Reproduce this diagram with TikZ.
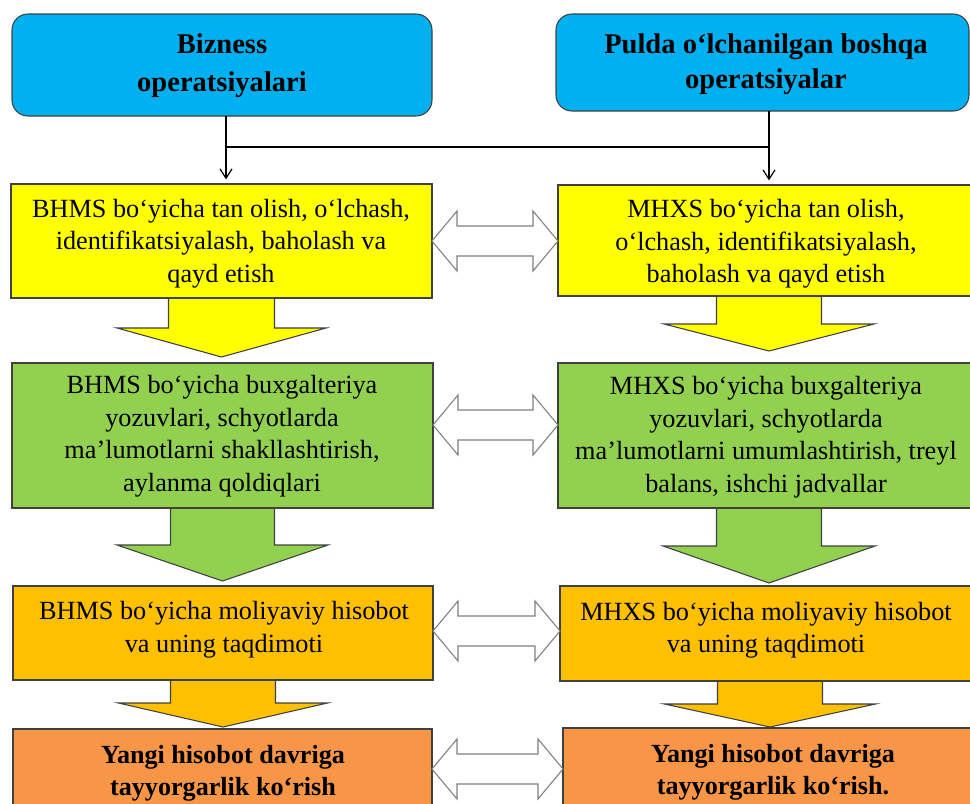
\documentclass[tikz,border=0pt]{standalone}
\usepackage{fontspec}
\setmainfont{Liberation Serif}
\usetikzlibrary{arrows.meta,calc,fit}
\pgfdeclarelayer{background}
\pgfsetlayers{background,main}
\definecolor{cblue}{HTML}{00B0F0}
\definecolor{cyel}{HTML}{FFFF00}
\definecolor{cgreen}{HTML}{92D050}
\definecolor{cgold}{HTML}{FFC000}
\definecolor{corange}{HTML}{F79646}
\definecolor{cbord}{HTML}{404040}
\definecolor{carrow}{HTML}{7F7F7F}
\tikzset{
 box/.style={draw=cbord, line width=0.8pt, inner sep=0pt, outer sep=0pt, rectangle},
 titlebox/.style={box, rounded corners=12pt},
 body/.style={font=\fontsize{19.7pt}{24.4pt}\selectfont, align=center, inner sep=0pt},
 titleL/.style={font=\bfseries\fontsize{21.4pt}{28.5pt}\selectfont, align=center, inner sep=0pt},
 titleR/.style={font=\bfseries\fontsize{21.4pt}{26.25pt}\selectfont, align=center, inner sep=0pt},
 btext/.style={font=\bfseries\fontsize{19.6pt}{24pt}\selectfont, align=center, inner sep=0pt},
 link/.style={draw=black, line width=0.9pt},
 dbl/.style={draw=carrow, fill=white, line width=0.8pt, line join=miter},
 blk/.style={draw=cbord, line width=0.8pt, fill=#1},
}
% block arrow going down from node #1 to node #2
\newcommand\blockdown[7]{%
 \coordinate (tip) at ($(#2.north -| #1.south)+(0,-#7)$);
 \begin{pgfonlayer}{background}
 \path[blk=#3] ($(#1.south)+(-#4,-4)$) -- ($(tip)+(-#4,-#6)$) -- ($(tip)+(-#5,-#6)$) -- (tip)
   -- ($(tip)+(#5,-#6)$) -- ($(tip)+(#4,-#6)$) -- ($(#1.south)+(#4,-4)$);
 \end{pgfonlayer}}
% double arrow between node #1 (left) and node #2 (right) at height #3
\newcommand\dblarrow[3]{%
 \coordinate (rowy) at (0,#3);
 \coordinate (dl) at (#1.east |- rowy);
 \coordinate (dr) at (#2.west |- rowy);
 \draw[dbl] (dl) -- ($(dl)+(25,-30)$) -- ($(dl)+(25,-15)$) -- ($(dr)+(-25,-15)$) -- ($(dr)+(-25,-30)$)
   -- (dr) -- ($(dr)+(-25,30)$) -- ($(dr)+(-25,15)$) -- ($(dl)+(25,15)$) -- ($(dl)+(25,30)$) -- cycle;}
\begin{document}
\begin{tikzpicture}[x=0.75pt,y=-0.75pt]
\useasboundingbox (0,0) rectangle (970,803);
% boxes
\node[titlebox, fill=cblue, fit={(12,14) (432,116)}] (bL) {};
\node[titlebox, fill=cblue, fit={(556,14) (969,111)}] (bR) {};
\node[box, fill=cyel, fit={(11,184) (432,298)}] (yL) {};
\node[box, fill=cyel, fit={(558,185) (980,296)}] (yR) {};
\node[box, fill=cgreen, fit={(12,363) (433,508)}] (gL) {};
\node[box, fill=cgreen, fit={(558,363) (980,508)}] (gR) {};
\node[box, fill=cgold, fit={(13,586) (433,680)}] (oL) {};
\node[box, fill=cgold, fit={(560,586) (980,681)}] (oR) {};
\node[box, fill=corange, fit={(13,729) (432,815)}] (rL) {};
\node[box, fill=corange, fit={(563,728) (980,815)}] (rR) {};
% texts
\node[titleL] (tbL) at (222,66) {Bizness\\operatsiyalari};
\node[titleR] (tbR) at (766,64) {Pulda o‘lchanilgan boshqa\\operatsiyalar};
\node[body] (tyL) at (221,243.5) {BHMS bo‘yicha tan olish, o‘lchash,\\identifikatsiyalash, baholash va\\qayd etish};
\node[body] (tyR) at (766,244) {MHXS bo‘yicha tan olish,\\o‘lchash, identifikatsiyalash,\\baholash va qayd etish};
\node[body] (tgL) at (222,436) {BHMS bo‘yicha buxgalteriya\\yozuvlari, schyotlarda\\ma’lumotlarni shakllashtirish,\\aylanma qoldiqlari};
\node[body] (tgR) at (766,437) {MHXS bo‘yicha buxgalteriya\\yozuvlari, schyotlarda\\ma’lumotlarni umumlashtirish, treyl\\balans, ishchi jadvallar};
\node[body] (toL) at (224,629.5) {BHMS bo‘yicha moliyaviy hisobot\\va uning taqdimoti};
\node[body] (toR) at (766,630) {MHXS bo‘yicha moliyaviy hisobot\\va uning taqdimoti};
\node[btext] (trL) at (223,773) {Yangi hisobot davriga\\tayyorgarlik ko‘rish};
\node[btext] (trR) at (773,772) {Yangi hisobot davriga\\tayyorgarlik ko‘rish.};
% thin connectors
\coordinate (aL) at (226,0);
\coordinate (jy) at (0,147);
\draw[link, -{Straight Barb[length=7pt,width=9pt]}, shorten >=3.5pt] (aL |- bL.south) -- (aL |- yL.north);
\draw[link, -{Straight Barb[length=7pt,width=9pt]}, shorten >=3.5pt] (bR.south -| yR.north) -- (yR.north);
\draw[link] (aL |- jy) -- (yR.north |- jy);
% block arrows
\blockdown{yL}{gL}{cyel}{53}{104.5}{29}{6}
\blockdown{yR}{gR}{cyel}{52.5}{105}{27}{12}
\blockdown{gL}{oL}{cgreen}{52}{105.5}{36}{5}
\blockdown{gR}{oR}{cgreen}{52.5}{106}{37}{3}
\blockdown{oL}{rL}{cgold}{52.5}{104.5}{24}{2}
\blockdown{oR}{rR}{cgold}{52.5}{105.5}{23}{1}
% double arrows
\dblarrow{yL}{yR}{241}
\dblarrow{gL}{gR}{425}
\dblarrow{oL}{oR}{631}
\dblarrow{rL}{rR}{769}
\end{tikzpicture}
\end{document}
